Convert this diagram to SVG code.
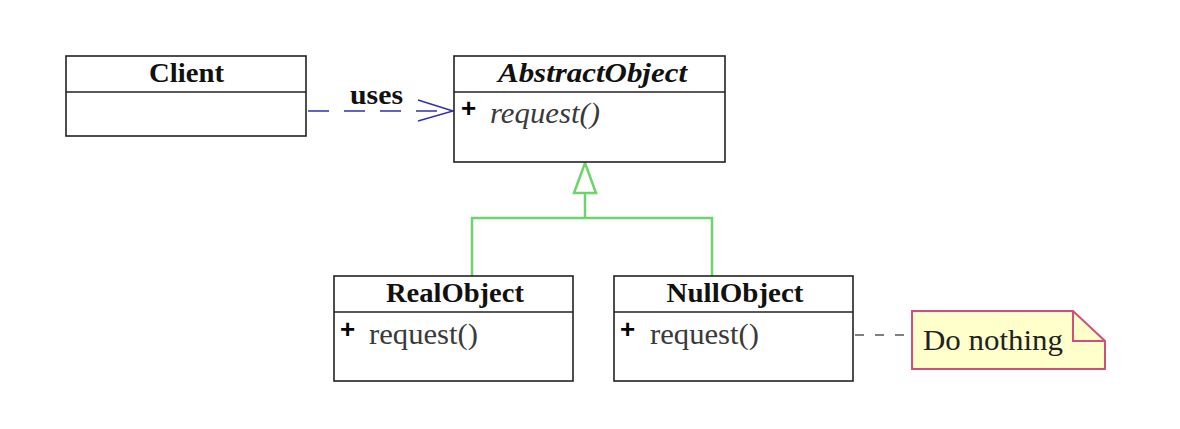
<svg xmlns="http://www.w3.org/2000/svg" width="1180" height="429" viewBox="0 0 1180 429">
<style>
.box{fill:#fff;stroke:#222;stroke-width:1.6}
.div{stroke:#222;stroke-width:1.6}
.title{font-family:"Liberation Serif","Times New Roman",serif;font-weight:bold;font-size:28px;fill:#111;text-anchor:middle}
.op{font-family:"Liberation Serif","Times New Roman",serif;font-size:30px;fill:#3a3a3a}
.plus{font-family:"Liberation Sans",sans-serif;font-weight:bold;font-size:26px;fill:#000}
.gen{fill:none;stroke:#6dd36d;stroke-width:2.5}
</style>
<rect width="1180" height="429" fill="#fff"/>
<g id="connectors">
  <line x1="308" y1="111" x2="452" y2="111" stroke="#3030b0" stroke-width="1.5" stroke-dasharray="21,15"/>
  <polyline points="418,100 453,111 418,121" fill="none" stroke="#3030b0" stroke-width="1.5"/>
  <text x="376.5" y="104" class="title" style="font-size:27px" textLength="53" lengthAdjust="spacingAndGlyphs">uses</text>
  <polygon points="585,163 574,193 596,193" fill="#fff" stroke="#6dd36d" stroke-width="2.5"/>
  <polyline class="gen" points="585,193 585,218"/>
  <polyline class="gen" points="472,276 472,218 712,218 712,276"/>
  <line x1="855" y1="335" x2="911" y2="335" stroke="#555" stroke-width="1.5" stroke-dasharray="9,11"/>
</g>
<g id="Client">
  <rect class="box" x="66" y="56" width="240" height="80"/>
  <line class="div" x1="66" y1="92" x2="306" y2="92"/>
  <text class="title" x="186.5" y="82" textLength="75" lengthAdjust="spacingAndGlyphs">Client</text>
</g>
<g id="AbstractObject">
  <rect class="box" x="454" y="56" width="271" height="106"/>
  <line class="div" x1="454" y1="92" x2="725" y2="92"/>
  <text class="title" x="592.5" y="82" font-style="italic" textLength="189" lengthAdjust="spacingAndGlyphs">AbstractObject</text>
  <text class="plus" x="461" y="117">+</text>
  <text class="op" x="490" y="123" font-style="italic" textLength="110" lengthAdjust="spacingAndGlyphs">request()</text>
</g>
<g id="RealObject">
  <rect class="box" x="334" y="276" width="239" height="105"/>
  <line class="div" x1="334" y1="312" x2="573" y2="312"/>
  <text class="title" x="455" y="302" textLength="138" lengthAdjust="spacingAndGlyphs">RealObject</text>
  <text class="plus" x="340" y="338">+</text>
  <text class="op" x="369" y="344" textLength="109" lengthAdjust="spacingAndGlyphs">request()</text>
</g>
<g id="NullObject">
  <rect class="box" x="614" y="276" width="239" height="105"/>
  <line class="div" x1="614" y1="312" x2="853" y2="312"/>
  <text class="title" x="735" y="302" textLength="137" lengthAdjust="spacingAndGlyphs">NullObject</text>
  <text class="plus" x="620" y="338">+</text>
  <text class="op" x="650" y="344" textLength="109" lengthAdjust="spacingAndGlyphs">request()</text>
</g>
<g id="note">
  <path d="M912,311 L1073,311 L1105,341 L1105,369 L912,369 Z" fill="#ffffcc" stroke="#d0507a" stroke-width="2"/>
  <path d="M1073,311 L1073,341 L1105,341" fill="none" stroke="#d0507a" stroke-width="2"/>
  <text class="op" x="923" y="350" style="fill:#222" textLength="140" lengthAdjust="spacingAndGlyphs">Do nothing</text>
</g>
</svg>
